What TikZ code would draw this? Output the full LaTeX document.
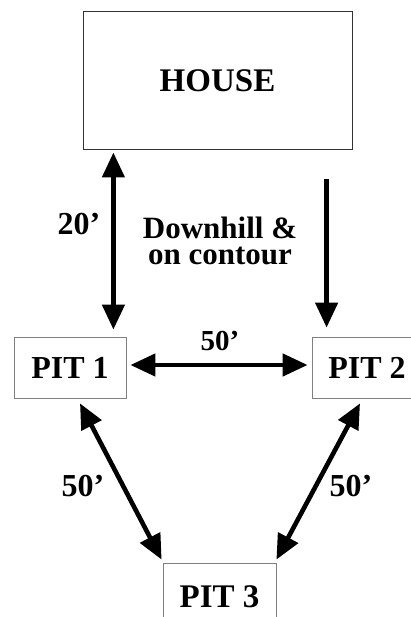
\documentclass[tikz,border=0pt]{standalone}
\usepackage{fontspec}
\setmainfont{Liberation Serif}
\usetikzlibrary{arrows.meta,calc}
\begin{document}
\begin{tikzpicture}[x=1pt,y=-1pt,
        box/.style={draw=black!50,line width=0.8pt,inner sep=0pt,font=\bfseries\fontsize{32}{34}\selectfont},
        lbl/.style={font=\bfseries\fontsize{32}{24}\selectfont,align=center,inner sep=0pt},
        dbl/.style={line width=4.6pt,{Triangle[length=25pt,width=22pt]}-{Triangle[length=25pt,width=22pt]}},
        sgl/.style={line width=4.6pt,-{Triangle[length=25pt,width=22pt]}}]
        			\useasboundingbox (0,0) rectangle (411,617);
        			\node[box,draw=black!80,line width=1pt,minimum width=269pt,minimum height=138pt,font=\bfseries\fontsize{33}{35}\selectfont] (house) at (217.5,81) {HOUSE};
        			\node[box,minimum width=112pt,minimum height=61pt] (pit1) at (70,367.5) {PIT 1};
        			\node[box,minimum width=110pt,minimum height=61pt] (pit2) at (367,367.5) {PIT 2};
        			\node[box,minimum width=113pt,minimum height=68pt,font=\bfseries\fontsize{33}{35}\selectfont] (pit3) at (219.5,597) {PIT 3};
        			\draw[dbl] ($(house.south -| pit1.north east)+(-13,2)$) -- ($(pit1.north east)+(-13,-7)$);
        			\draw[sgl] ($(house.south -| pit2.north west)+(15,29)$) -- ($(pit2.north west)+(15,-9)$);
        			\draw[dbl] ($(pit1.east)+(4,-2.5)$) -- ($(pit2.west)+(-4,-2.5)$);
        			\draw[dbl] ($(pit1.south)+(10,5)$) -- ($(pit3.north west)+(-1,-3)$);
        			\draw[dbl] ($(pit2.south)+(-7,5)$) -- ($(pit3.north east)+(0,-3)$);
        			\node[lbl] (dist1) at (79,224) {20'};
        			\node[lbl,font=\bfseries\fontsize{31}{26}\selectfont] (note) at (220,241) {Downhill \&\\on contour};
        			\node[lbl,font=\bfseries\fontsize{29}{30}\selectfont] (dist2) at (220,341) {50'};
        			\node[lbl] (dist3) at (83,486) {50'};
        			\node[lbl] (dist4) at (351,486) {50'};
    			\end{tikzpicture}
\end{document}
